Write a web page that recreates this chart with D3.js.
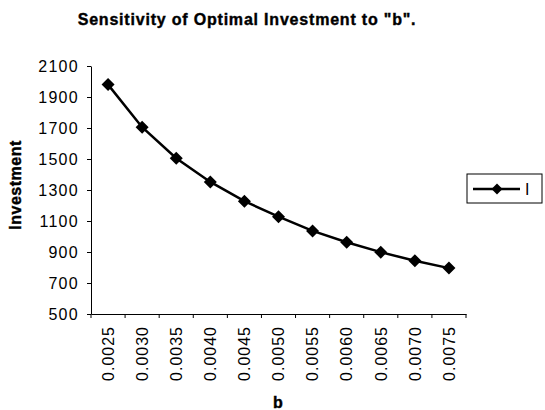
<!DOCTYPE html>
<html>
<head>
<meta charset="utf-8">
<title>Sensitivity of Optimal Investment</title>
<script src="https://cdn.jsdelivr.net/npm/d3@7"></script>
<style>
  body { margin: 0; background: #fff; }
  svg text { font-family: "Liberation Sans", Arial, Helvetica, sans-serif; fill: #000; }
  .heavy { stroke: #000; stroke-width: 0.4px; }
</style>
</head>
<body>
<div id="chart"></div>
<script>
// values
const bValues = ["0.0025", "0.0030", "0.0035", "0.0040", "0.0045", "0.0050",
                 "0.0055", "0.0060", "0.0065", "0.0070", "0.0075"];
const investment = [1980, 1705, 1505, 1352, 1228, 1128, 1036, 963, 899, 843, 796];
const yTicks = [500, 700, 900, 1100, 1300, 1500, 1700, 1900, 2100];
const seriesName = "I";

const W = 545, H = 410;
const plot = {left: 91, right: 466, top: 66, bottom: 314};

const svg = d3.select("#chart").append("svg")
    .attr("width", W).attr("height", H);

const x = d3.scaleBand().domain(bValues).range([plot.left, plot.right]);
const y = d3.scaleLinear().domain([500, 2100]).range([plot.bottom, plot.top]);

// title
svg.append("text")
    .attr("class", "heavy")
    .attr("x", 247).attr("y", 25)
    .attr("text-anchor", "middle")
    .style("font-size", "16px").style("font-weight", "bold")
    .style("letter-spacing", "0.8px")
    .text('Sensitivity of Optimal Investment to "b".');

// y axis
const yAxis = svg.append("g")
    .attr("transform", `translate(${plot.left},0)`)
    .call(d3.axisLeft(y).tickValues(yTicks).tickFormat(d3.format("d"))
        .tickSize(4).tickPadding(8).tickSizeOuter(0));
yAxis.select(".domain").attr("stroke", "#000").attr("stroke-width", 1);
yAxis.selectAll(".tick line").attr("stroke", "#000");
yAxis.selectAll("text")
    .style("font-size", "16px").style("letter-spacing", "1.3px")
    .attr("font-family", null);

// x axis
const xAxis = svg.append("g")
    .attr("transform", `translate(0,${plot.bottom})`)
    .call(d3.axisBottom(x).tickSize(0).tickSizeOuter(0));
xAxis.select(".domain").attr("stroke", "#000").attr("stroke-width", 1);
// ticks sit between categories
xAxis.selectAll(".sep")
    .data(d3.range(bValues.length + 1))
    .join("line")
    .attr("class", "sep")
    .attr("x1", i => plot.left + i * x.step())
    .attr("x2", i => plot.left + i * x.step())
    .attr("y1", 0).attr("y2", 4)
    .attr("stroke", "#000");
xAxis.selectAll(".tick text")
    .attr("transform", "rotate(-90)")
    .attr("text-anchor", "end")
    .attr("x", -12).attr("y", 0).attr("dy", "0.36em")
    .style("font-size", "16px").style("letter-spacing", "1px");

// axis titles
svg.append("text")
    .attr("class", "heavy")
    .attr("x", 278).attr("y", 408)
    .attr("text-anchor", "middle")
    .style("font-size", "16px").style("font-weight", "bold")
    .text("b");

svg.append("text")
    .attr("class", "heavy")
    .attr("transform", "translate(21,185) rotate(-90)")
    .attr("text-anchor", "middle")
    .style("font-size", "16px").style("font-weight", "bold")
    .style("letter-spacing", "0.5px")
    .text("Investment");

// series
const pts = bValues.map((b, i) => ({b, v: investment[i]}));
const cx = d => x(d.b) + x.bandwidth() / 2;

svg.append("path")
    .datum(pts)
    .attr("fill", "none")
    .attr("stroke", "#000")
    .attr("stroke-width", 2.5)
    .attr("d", d3.line().x(cx).y(d => y(d.v)));

const diamond = r => `M0,${-r}L${r},0L0,${r}L${-r},0Z`;

svg.selectAll(".pt")
    .data(pts)
    .join("path")
    .attr("class", "pt")
    .attr("transform", d => `translate(${cx(d)},${y(d.v)})`)
    .attr("d", diamond(6.5))
    .attr("fill", "#000");

// legend
const lg = svg.append("g").attr("transform", "translate(467,174)");
lg.append("rect")
    .attr("width", 75).attr("height", 29)
    .attr("fill", "#fff").attr("stroke", "#000").attr("stroke-width", 1);
lg.append("line")
    .attr("x1", 6).attr("x2", 53).attr("y1", 15).attr("y2", 15)
    .attr("stroke", "#000").attr("stroke-width", 2.5);
lg.append("path")
    .attr("transform", "translate(30,15)")
    .attr("d", diamond(5.5)).attr("fill", "#000");
lg.append("text")
    .attr("x", 58).attr("y", 21)
    .style("font-size", "16px")
    .text(seriesName);
</script>
</body>
</html>
